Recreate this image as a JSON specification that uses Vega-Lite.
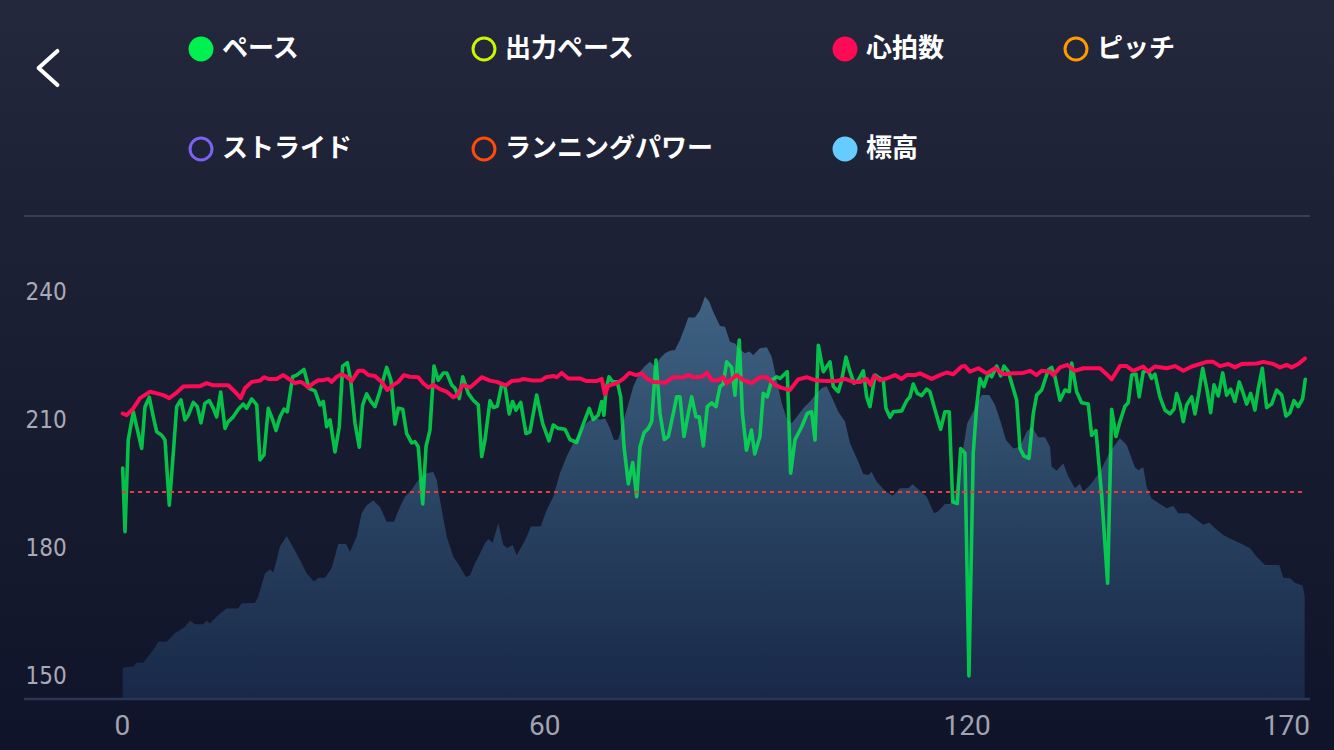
{
  "$schema": "https://vega.github.io/schema/vega-lite/v6.json",
  "width": 1334,
  "height": 750,
  "autosize": {"type": "none"},
  "padding": 0,
  "background": "#11152a",
  "view": {"stroke": null, "fill": {"gradient": "linear", "x1": 0, "y1": 0, "x2": 0, "y2": 1, "stops": [{"offset": 0, "color": "#23283c"}, {"offset": 0.3, "color": "#1d2135"}, {"offset": 1, "color": "#10142a"}]}},
  "datasets": {
    "legend": [],
    "elev": [
      {"t":0.1,"v":152.0},{"t":0.43,"v":152.2},{"t":1.61,"v":152.4},{"t":2.09,"v":153.3},{"t":3.03,"v":153.3},{"t":4.45,"v":156.3},{"t":5.16,"v":158.2},{"t":6.35,"v":158.2},{"t":7.53,"v":160.2},{"t":8.24,"v":160.9},{"t":8.95,"v":161.7},{"t":9.66,"v":163.1},{"t":10.37,"v":162.3},{"t":11.55,"v":162.3},{"t":12.03,"v":163.1},{"t":12.5,"v":162.5},{"t":13.45,"v":164.1},{"t":14.87,"v":166.0},{"t":16.52,"v":166.0},{"t":17.0,"v":167.2},{"t":18.89,"v":167.3},{"t":19.36,"v":168.8},{"t":20.31,"v":174.2},{"t":21.02,"v":175.2},{"t":21.49,"v":174.4},{"t":21.98,"v":177.4},{"t":22.45,"v":180.5},{"t":23.4,"v":183.0},{"t":24.11,"v":180.9},{"t":25.05,"v":178.1},{"t":26.24,"v":174.2},{"t":27.28,"v":172.3},{"t":27.89,"v":173.2},{"t":28.84,"v":173.2},{"t":29.79,"v":175.4},{"t":30.73,"v":181.1},{"t":31.82,"v":181.1},{"t":32.39,"v":179.3},{"t":33.34,"v":182.8},{"t":34.05,"v":188.3},{"t":34.76,"v":190.2},{"t":35.7,"v":191.3},{"t":36.65,"v":189.8},{"t":37.6,"v":186.3},{"t":38.64,"v":186.3},{"t":39.49,"v":189.8},{"t":40.2,"v":192.2},{"t":41.16,"v":193.8},{"t":42.09,"v":196.1},{"t":43.28,"v":197.7},{"t":44.22,"v":198.0},{"t":44.71,"v":196.1},{"t":45.17,"v":191.4},{"t":46.13,"v":182.8},{"t":47.07,"v":178.1},{"t":48.02,"v":175.8},{"t":48.87,"v":173.3},{"t":49.44,"v":173.8},{"t":50.15,"v":176.6},{"t":50.86,"v":178.9},{"t":51.57,"v":181.3},{"t":52.04,"v":182.2},{"t":52.66,"v":181.4},{"t":53.46,"v":186.0},{"t":54.17,"v":180.9},{"t":54.74,"v":180.2},{"t":55.5,"v":180.9},{"t":56.07,"v":178.5},{"t":56.78,"v":180.5},{"t":57.39,"v":182.4},{"t":58.1,"v":185.2},{"t":59.48,"v":185.2},{"t":60.33,"v":189.1},{"t":61.27,"v":192.2},{"t":62.22,"v":197.7},{"t":63.17,"v":201.6},{"t":64.11,"v":204.7},{"t":65.06,"v":207.4},{"t":66.01,"v":209.5},{"t":67.19,"v":210.9},{"t":67.9,"v":210.2},{"t":68.62,"v":210.6},{"t":69.33,"v":208.2},{"t":69.89,"v":205.5},{"t":70.51,"v":205.6},{"t":70.99,"v":208.6},{"t":71.7,"v":212.5},{"t":72.64,"v":218.0},{"t":73.59,"v":221.5},{"t":74.3,"v":222.8},{"t":75.01,"v":223.8},{"t":75.72,"v":222.7},{"t":76.43,"v":224.6},{"t":77.14,"v":225.8},{"t":77.85,"v":226.4},{"t":78.56,"v":226.6},{"t":79.27,"v":228.9},{"t":79.98,"v":232.0},{"t":80.45,"v":234.2},{"t":81.4,"v":234.2},{"t":82.11,"v":235.9},{"t":82.82,"v":239.1},{"t":83.43,"v":237.9},{"t":84.0,"v":235.5},{"t":84.95,"v":232.2},{"t":85.66,"v":232.0},{"t":86.37,"v":228.5},{"t":87.08,"v":228.1},{"t":87.79,"v":226.7},{"t":88.5,"v":225.8},{"t":89.12,"v":226.2},{"t":89.68,"v":225.4},{"t":90.63,"v":227.0},{"t":91.59,"v":227.2},{"t":92.3,"v":225.0},{"t":93.01,"v":219.5},{"t":93.72,"v":214.1},{"t":94.51,"v":210.2},{"t":95.14,"v":209.4},{"t":95.85,"v":210.9},{"t":96.79,"v":212.9},{"t":97.84,"v":214.7},{"t":98.68,"v":216.4},{"t":99.39,"v":217.6},{"t":100.1,"v":218.1},{"t":100.81,"v":215.6},{"t":101.76,"v":212.1},{"t":102.71,"v":209.8},{"t":103.42,"v":204.7},{"t":104.6,"v":200.4},{"t":105.31,"v":197.5},{"t":106.02,"v":197.3},{"t":106.5,"v":198.0},{"t":107.21,"v":195.7},{"t":108.39,"v":193.6},{"t":109.48,"v":192.4},{"t":110.52,"v":194.2},{"t":111.7,"v":194.2},{"t":112.32,"v":195.1},{"t":113.36,"v":193.6},{"t":114.31,"v":192.2},{"t":115.35,"v":188.3},{"t":115.96,"v":188.8},{"t":116.91,"v":190.5},{"t":117.62,"v":190.5},{"t":118.33,"v":193.0},{"t":119.04,"v":198.8},{"t":120.08,"v":209.4},{"t":120.93,"v":212.1},{"t":122.13,"v":216.0},{"t":123.21,"v":216.0},{"t":124.02,"v":213.7},{"t":124.73,"v":210.2},{"t":125.58,"v":205.5},{"t":126.62,"v":203.5},{"t":127.57,"v":203.9},{"t":128.52,"v":207.4},{"t":129.23,"v":208.6},{"t":130.17,"v":206.1},{"t":131.12,"v":206.1},{"t":131.83,"v":203.9},{"t":132.07,"v":199.2},{"t":132.78,"v":198.3},{"t":133.72,"v":200.0},{"t":134.43,"v":196.9},{"t":135.38,"v":194.2},{"t":136.09,"v":195.2},{"t":136.56,"v":193.4},{"t":137.51,"v":194.9},{"t":138.93,"v":198.0},{"t":140.35,"v":202.7},{"t":141.77,"v":205.9},{"t":142.72,"v":204.3},{"t":143.9,"v":199.1},{"t":144.37,"v":198.4},{"t":145.08,"v":199.1},{"t":145.56,"v":194.5},{"t":146.27,"v":191.8},{"t":147.45,"v":190.5},{"t":148.41,"v":189.5},{"t":149.35,"v":190.0},{"t":150.06,"v":188.3},{"t":151.48,"v":188.3},{"t":152.19,"v":187.4},{"t":153.61,"v":185.6},{"t":154.46,"v":186.1},{"t":155.27,"v":184.8},{"t":156.45,"v":183.2},{"t":157.4,"v":182.4},{"t":159.06,"v":181.1},{"t":160.24,"v":180.1},{"t":161.2,"v":178.1},{"t":162.38,"v":176.2},{"t":164.41,"v":176.2},{"t":164.98,"v":173.2},{"t":165.93,"v":173.1},{"t":166.63,"v":172.0},{"t":167.73,"v":171.3},{"t":168.01,"v":168.8}
    ],
    "pace": [
      {"t":0.1,"v":198.9},{"t":0.43,"v":184.0},{"t":0.89,"v":205.5},{"t":1.61,"v":212.1},{"t":2.09,"v":208.6},{"t":2.8,"v":203.5},{"t":3.27,"v":213.3},{"t":3.88,"v":215.5},{"t":4.45,"v":210.9},{"t":4.93,"v":207.4},{"t":5.64,"v":206.6},{"t":6.11,"v":205.5},{"t":6.72,"v":190.2},{"t":7.29,"v":202.4},{"t":7.77,"v":213.3},{"t":8.38,"v":214.9},{"t":8.95,"v":210.2},{"t":9.42,"v":211.3},{"t":10.13,"v":214.3},{"t":10.7,"v":213.3},{"t":11.22,"v":209.5},{"t":11.79,"v":214.1},{"t":12.4,"v":214.7},{"t":12.97,"v":212.9},{"t":13.45,"v":210.9},{"t":14.02,"v":216.7},{"t":14.63,"v":208.2},{"t":15.1,"v":209.8},{"t":15.81,"v":210.9},{"t":16.52,"v":212.7},{"t":17.23,"v":213.9},{"t":17.71,"v":212.9},{"t":18.43,"v":215.1},{"t":19.14,"v":213.7},{"t":19.6,"v":200.8},{"t":20.17,"v":202.0},{"t":20.78,"v":212.9},{"t":21.41,"v":210.2},{"t":21.88,"v":207.7},{"t":22.45,"v":210.9},{"t":23.01,"v":212.7},{"t":23.48,"v":212.1},{"t":24.25,"v":220.3},{"t":24.82,"v":220.7},{"t":25.85,"v":222.0},{"t":26.57,"v":217.6},{"t":27.42,"v":217.0},{"t":28.13,"v":213.7},{"t":28.6,"v":214.5},{"t":29.08,"v":208.6},{"t":29.55,"v":210.2},{"t":30.26,"v":202.7},{"t":30.87,"v":208.6},{"t":31.35,"v":222.8},{"t":32.01,"v":223.6},{"t":32.49,"v":219.5},{"t":33.1,"v":209.4},{"t":33.71,"v":203.8},{"t":34.19,"v":213.7},{"t":34.76,"v":216.3},{"t":35.37,"v":214.5},{"t":35.94,"v":213.3},{"t":36.55,"v":216.4},{"t":37.6,"v":222.5},{"t":38.21,"v":219.5},{"t":38.78,"v":209.2},{"t":39.25,"v":212.9},{"t":39.88,"v":212.7},{"t":40.44,"v":207.0},{"t":41.16,"v":204.8},{"t":41.62,"v":205.1},{"t":42.09,"v":203.9},{"t":42.72,"v":190.5},{"t":43.19,"v":203.9},{"t":43.75,"v":207.8},{"t":44.32,"v":222.8},{"t":44.93,"v":219.5},{"t":45.64,"v":221.2},{"t":46.13,"v":221.2},{"t":46.84,"v":218.4},{"t":47.31,"v":217.6},{"t":47.92,"v":215.2},{"t":48.4,"v":220.3},{"t":49.2,"v":216.4},{"t":49.9,"v":214.8},{"t":50.62,"v":213.7},{"t":51.1,"v":201.6},{"t":51.57,"v":205.5},{"t":52.28,"v":214.7},{"t":52.75,"v":213.1},{"t":53.32,"v":213.4},{"t":53.94,"v":218.4},{"t":54.41,"v":218.0},{"t":55.02,"v":211.6},{"t":55.5,"v":214.5},{"t":55.97,"v":212.5},{"t":56.64,"v":214.3},{"t":57.39,"v":207.0},{"t":57.96,"v":207.4},{"t":58.91,"v":216.0},{"t":59.76,"v":209.4},{"t":60.66,"v":205.3},{"t":61.27,"v":209.0},{"t":61.98,"v":208.2},{"t":62.93,"v":208.0},{"t":63.64,"v":205.6},{"t":64.59,"v":204.9},{"t":65.53,"v":209.2},{"t":66.38,"v":212.9},{"t":66.95,"v":210.3},{"t":67.66,"v":211.3},{"t":68.15,"v":214.5},{"t":68.47,"v":211.3},{"t":68.76,"v":217.2},{"t":69.18,"v":220.3},{"t":69.71,"v":219.1},{"t":70.36,"v":219.1},{"t":70.85,"v":215.6},{"t":71.32,"v":203.9},{"t":71.93,"v":195.2},{"t":72.55,"v":200.2},{"t":73.12,"v":192.2},{"t":73.59,"v":203.9},{"t":74.16,"v":207.2},{"t":74.77,"v":208.2},{"t":75.25,"v":209.8},{"t":75.86,"v":224.2},{"t":76.43,"v":211.7},{"t":77.04,"v":205.6},{"t":77.61,"v":206.3},{"t":78.32,"v":211.7},{"t":78.8,"v":215.6},{"t":79.27,"v":215.6},{"t":79.84,"v":206.3},{"t":80.45,"v":211.7},{"t":80.93,"v":215.6},{"t":81.54,"v":210.9},{"t":82.01,"v":210.9},{"t":82.58,"v":204.1},{"t":83.15,"v":213.3},{"t":83.77,"v":214.2},{"t":84.38,"v":213.3},{"t":84.95,"v":218.0},{"t":85.42,"v":218.6},{"t":85.9,"v":223.8},{"t":86.61,"v":222.5},{"t":87.08,"v":216.0},{"t":87.69,"v":228.9},{"t":88.14,"v":211.7},{"t":88.71,"v":203.1},{"t":89.42,"v":207.8},{"t":89.89,"v":202.2},{"t":90.63,"v":206.3},{"t":91.1,"v":216.4},{"t":91.67,"v":215.6},{"t":92.3,"v":219.5},{"t":93.01,"v":220.3},{"t":93.48,"v":219.9},{"t":94.51,"v":221.5},{"t":94.99,"v":197.7},{"t":95.6,"v":205.5},{"t":96.56,"v":208.6},{"t":97.35,"v":211.7},{"t":97.97,"v":212.1},{"t":98.45,"v":205.5},{"t":98.92,"v":227.7},{"t":99.63,"v":221.5},{"t":100.58,"v":223.8},{"t":101.05,"v":218.0},{"t":101.76,"v":216.8},{"t":102.24,"v":219.5},{"t":102.85,"v":224.9},{"t":103.42,"v":221.5},{"t":103.99,"v":218.8},{"t":104.6,"v":219.5},{"t":105.31,"v":221.7},{"t":105.79,"v":215.6},{"t":106.26,"v":213.3},{"t":106.97,"v":220.7},{"t":107.44,"v":220.2},{"t":108.15,"v":219.5},{"t":108.53,"v":212.9},{"t":109.1,"v":210.8},{"t":109.57,"v":212.1},{"t":110.76,"v":212.3},{"t":111.47,"v":214.7},{"t":111.94,"v":215.6},{"t":112.41,"v":218.6},{"t":112.98,"v":216.4},{"t":113.6,"v":215.9},{"t":114.31,"v":217.4},{"t":114.78,"v":216.8},{"t":115.35,"v":213.4},{"t":116.3,"v":208.0},{"t":116.91,"v":212.1},{"t":117.52,"v":212.1},{"t":118.01,"v":191.0},{"t":118.66,"v":190.6},{"t":119.14,"v":203.5},{"t":119.75,"v":202.4},{"t":120.32,"v":150.2},{"t":120.93,"v":202.4},{"t":121.41,"v":213.3},{"t":121.88,"v":219.9},{"t":122.45,"v":218.0},{"t":123.07,"v":221.1},{"t":123.55,"v":220.3},{"t":124.26,"v":222.8},{"t":124.83,"v":220.5},{"t":125.3,"v":222.8},{"t":125.91,"v":221.5},{"t":126.39,"v":218.8},{"t":127.1,"v":214.8},{"t":127.57,"v":203.5},{"t":128.14,"v":201.7},{"t":128.85,"v":201.2},{"t":129.46,"v":211.7},{"t":129.94,"v":216.0},{"t":130.65,"v":217.2},{"t":131.59,"v":221.9},{"t":132.07,"v":222.5},{"t":132.54,"v":220.3},{"t":133.25,"v":214.8},{"t":133.96,"v":217.2},{"t":134.58,"v":216.8},{"t":134.91,"v":223.5},{"t":135.62,"v":216.8},{"t":136.33,"v":214.2},{"t":137.27,"v":213.9},{"t":137.75,"v":206.6},{"t":138.36,"v":207.7},{"t":139.17,"v":192.6},{"t":140.02,"v":171.9},{"t":140.59,"v":212.7},{"t":141.21,"v":206.3},{"t":141.77,"v":209.8},{"t":142.48,"v":213.4},{"t":142.95,"v":214.2},{"t":143.44,"v":220.7},{"t":144.05,"v":220.9},{"t":144.51,"v":215.6},{"t":145.08,"v":221.5},{"t":145.79,"v":221.7},{"t":146.27,"v":219.9},{"t":146.74,"v":220.9},{"t":147.45,"v":215.6},{"t":148.17,"v":212.5},{"t":148.88,"v":211.6},{"t":149.44,"v":212.7},{"t":149.83,"v":216.4},{"t":150.3,"v":213.9},{"t":150.77,"v":209.8},{"t":151.25,"v":213.7},{"t":151.96,"v":215.6},{"t":152.43,"v":211.6},{"t":152.9,"v":215.8},{"t":153.53,"v":222.3},{"t":154.1,"v":217.6},{"t":154.66,"v":211.9},{"t":155.13,"v":218.4},{"t":155.74,"v":215.8},{"t":156.37,"v":221.2},{"t":156.93,"v":216.0},{"t":157.5,"v":217.4},{"t":158.11,"v":214.5},{"t":158.72,"v":219.1},{"t":159.29,"v":216.4},{"t":159.77,"v":213.9},{"t":160.34,"v":216.4},{"t":160.95,"v":212.5},{"t":161.42,"v":217.6},{"t":161.99,"v":222.3},{"t":162.61,"v":213.1},{"t":163.32,"v":213.9},{"t":164.03,"v":217.2},{"t":164.75,"v":216.0},{"t":165.36,"v":211.1},{"t":165.93,"v":211.9},{"t":166.49,"v":214.7},{"t":167.1,"v":213.3},{"t":167.73,"v":215.2},{"t":168.1,"v":219.7}
    ],
    "hr": [
      {"t":0.1,"v":211.7},{"t":0.67,"v":211.3},{"t":1.61,"v":212.9},{"t":2.56,"v":215.3},{"t":3.98,"v":216.8},{"t":4.93,"v":216.4},{"t":5.87,"v":216.0},{"t":6.72,"v":215.3},{"t":7.77,"v":216.6},{"t":8.71,"v":218.0},{"t":9.66,"v":218.1},{"t":11.08,"v":218.1},{"t":12.03,"v":218.8},{"t":12.97,"v":218.3},{"t":15.1,"v":218.3},{"t":16.05,"v":216.8},{"t":16.86,"v":215.3},{"t":17.47,"v":217.6},{"t":18.43,"v":219.1},{"t":19.6,"v":219.4},{"t":20.17,"v":220.2},{"t":20.78,"v":219.8},{"t":21.97,"v":219.8},{"t":22.91,"v":220.7},{"t":23.62,"v":219.9},{"t":24.58,"v":218.8},{"t":25.29,"v":219.1},{"t":25.76,"v":218.8},{"t":26.47,"v":217.8},{"t":27.18,"v":218.8},{"t":27.89,"v":219.5},{"t":28.6,"v":219.5},{"t":29.31,"v":219.8},{"t":29.79,"v":219.1},{"t":30.5,"v":220.3},{"t":31.21,"v":220.9},{"t":31.92,"v":220.3},{"t":32.63,"v":219.3},{"t":33.57,"v":221.7},{"t":34.28,"v":221.7},{"t":34.99,"v":220.7},{"t":35.94,"v":220.5},{"t":36.89,"v":219.1},{"t":37.69,"v":217.2},{"t":38.54,"v":218.4},{"t":39.25,"v":219.1},{"t":40.06,"v":220.7},{"t":40.91,"v":220.3},{"t":42.09,"v":220.2},{"t":42.8,"v":218.8},{"t":43.51,"v":217.8},{"t":44.22,"v":218.4},{"t":45.17,"v":217.4},{"t":46.13,"v":216.8},{"t":47.07,"v":215.5},{"t":47.63,"v":216.0},{"t":48.4,"v":218.4},{"t":49.44,"v":217.8},{"t":51.1,"v":220.2},{"t":52.28,"v":219.4},{"t":53.23,"v":219.1},{"t":54.55,"v":218.3},{"t":55.36,"v":219.3},{"t":56.54,"v":219.5},{"t":57.01,"v":219.8},{"t":58.43,"v":219.4},{"t":59.62,"v":219.5},{"t":60.23,"v":220.2},{"t":61.27,"v":220.5},{"t":61.75,"v":220.2},{"t":62.46,"v":221.2},{"t":63.4,"v":219.9},{"t":65.06,"v":219.9},{"t":66.01,"v":219.3},{"t":67.43,"v":219.3},{"t":68.15,"v":219.8},{"t":68.61,"v":216.2},{"t":69.08,"v":218.2},{"t":70.28,"v":218.8},{"t":71.21,"v":219.8},{"t":72.07,"v":221.2},{"t":73.02,"v":220.7},{"t":73.83,"v":221.1},{"t":74.54,"v":219.9},{"t":75.48,"v":219.1},{"t":77.14,"v":218.9},{"t":78.32,"v":220.2},{"t":79.74,"v":220.2},{"t":80.45,"v":220.7},{"t":81.16,"v":220.2},{"t":82.35,"v":220.3},{"t":83.15,"v":221.2},{"t":83.77,"v":219.5},{"t":84.72,"v":219.5},{"t":85.42,"v":220.2},{"t":85.9,"v":218.8},{"t":86.61,"v":219.7},{"t":87.32,"v":220.7},{"t":88.27,"v":219.5},{"t":89.46,"v":218.8},{"t":90.63,"v":220.2},{"t":91.59,"v":220.2},{"t":92.77,"v":218.4},{"t":93.72,"v":217.7},{"t":94.89,"v":217.2},{"t":96.07,"v":219.7},{"t":97.26,"v":220.2},{"t":98.68,"v":219.4},{"t":100.1,"v":219.3},{"t":101.53,"v":219.3},{"t":102.71,"v":219.8},{"t":103.89,"v":219.1},{"t":104.84,"v":219.1},{"t":105.79,"v":219.8},{"t":106.36,"v":218.4},{"t":106.83,"v":220.5},{"t":107.68,"v":219.5},{"t":108.63,"v":219.9},{"t":109.81,"v":220.7},{"t":110.76,"v":219.8},{"t":111.47,"v":220.7},{"t":112.65,"v":220.7},{"t":113.36,"v":221.1},{"t":115.02,"v":219.8},{"t":116.2,"v":220.7},{"t":117.15,"v":221.3},{"t":118.09,"v":220.9},{"t":119.29,"v":222.7},{"t":119.75,"v":222.8},{"t":120.46,"v":221.5},{"t":121.65,"v":222.3},{"t":122.84,"v":221.1},{"t":124.02,"v":222.3},{"t":125.2,"v":220.9},{"t":126.62,"v":221.1},{"t":128.04,"v":221.2},{"t":128.99,"v":221.7},{"t":129.94,"v":220.7},{"t":130.65,"v":221.7},{"t":131.83,"v":221.5},{"t":132.3,"v":220.7},{"t":133.25,"v":222.5},{"t":134.29,"v":223.1},{"t":135.38,"v":221.7},{"t":136.56,"v":222.3},{"t":138.93,"v":222.3},{"t":139.88,"v":220.9},{"t":140.59,"v":219.7},{"t":141.77,"v":222.8},{"t":142.72,"v":222.8},{"t":143.66,"v":221.7},{"t":145.08,"v":222.7},{"t":145.79,"v":221.5},{"t":146.74,"v":222.7},{"t":148.41,"v":222.3},{"t":149.59,"v":222.8},{"t":150.77,"v":221.7},{"t":151.96,"v":222.7},{"t":153.14,"v":223.3},{"t":154.1,"v":223.8},{"t":155.03,"v":223.8},{"t":155.98,"v":222.8},{"t":157.16,"v":223.3},{"t":158.11,"v":222.5},{"t":159.06,"v":223.3},{"t":161.2,"v":223.4},{"t":162.13,"v":223.8},{"t":163.55,"v":223.3},{"t":164.5,"v":222.5},{"t":165.45,"v":223.1},{"t":166.16,"v":222.5},{"t":167.1,"v":223.3},{"t":168.05,"v":224.6}
    ]
  },
  "layer": [
    {
      "data": {"name": "elev"},
      "mark": {"type": "area", "line": false, "color": {"gradient": "linear", "x1": 0, "y1": 0, "x2": 0, "y2": 1, "stops": [{"offset": 0, "color": "#3f6383"}, {"offset": 0.5, "color": "#2a4463"}, {"offset": 1, "color": "#182848"}]}},
      "encoding": {
        "x": {"field": "t", "type": "quantitative", "scale": {"domain": [-17.33, 172.18], "nice": false, "zero": false},
          "axis": {"title": null, "orient": "bottom", "offset": -51, "values": [0, 60, 120, 165.36], "labelExpr": "datum.value > 160 ? '170' : datum.label", "domain": false, "ticks": false, "tickSize": 0, "grid": false, "labelFont": "Roboto", "labelFontSize": 28, "labelColor": "#a1a4af", "labelPadding": 13, "labelFlush": false, "labelOverlap": false}},
        "y": {"field": "v", "type": "quantitative", "scale": {"domain": [132.83, 308.6], "nice": false, "zero": false},
          "axis": {"title": null, "orient": "left", "values": [150, 180, 210, 240], "domain": false, "ticks": false, "tickSize": 0, "grid": false, "labelAlign": "left", "labelBaseline": "middle", "labelPadding": -25, "labelFont": "DejaVu Sans Condensed, Liberation Sans Narrow, sans-serif", "labelFontSize": 24, "labelFontWeight": "normal", "labelColor": "#a9aab5", "labelFlush": false, "labelOverlap": false}},
        "y2": {"datum": 144.77}
      }
    },
    {
      "data": {"values": [{}]},
      "mark": {"type": "rule", "color": "#393e52", "strokeWidth": 2},
      "encoding": {"x": {"datum": -13.92}, "x2": {"datum": 168.77}, "y": {"datum": 257.97}}
    },
    {
      "data": {"values": [{}]},
      "mark": {"type": "rule", "color": "#2b3653", "strokeWidth": 2.5},
      "encoding": {"x": {"datum": -13.92}, "x2": {"datum": 168.77}, "y": {"datum": 144.77}}
    },
    {
      "data": {"name": "pace"},
      "mark": {"type": "line", "color": "#00f050", "strokeWidth": 3.6, "opacity": 0.78, "strokeJoin": "round", "strokeCap": "round"},
      "encoding": {
        "x": {"field": "t", "type": "quantitative"},
        "y": {"field": "v", "type": "quantitative"}
      }
    },
    {
      "data": {"values": [{}]},
      "mark": {"type": "rule", "color": "#e0403f", "strokeWidth": 2, "strokeDash": [4, 4]},
      "encoding": {"x": {"datum": 0}, "x2": {"datum": 168.1}, "y": {"datum": 193.3}}
    },
    {
      "data": {"name": "hr"},
      "mark": {"type": "line", "color": "#ff0a55", "strokeWidth": 4, "strokeJoin": "round", "strokeCap": "round"},
      "encoding": {
        "x": {"field": "t", "type": "quantitative"},
        "y": {"field": "v", "type": "quantitative"}
      }
    },
    {
      "data": {"name": "legend"},
      "mark": {"type": "point", "filled": true, "opacity": 1, "strokeWidth": 3},
      "encoding": {
        "x": {"field": "t", "type": "quantitative"},
        "y": {"field": "v", "type": "quantitative"},
        "fill": {"field": "s", "type": "nominal",
          "scale": {"domain": ["ペース", "出力ペース", "心拍数", "ピッチ", "ストライド", "ランニングパワー", "標高"], "range": ["#00f050", "transparent", "#ff0a55", "transparent", "transparent", "transparent", "#66ccff"]},
          "legend": {"title": null, "orient": "none", "legendX": 188, "legendY": 36, "direction": "horizontal", "columns": 4, "columnPadding": 114, "rowPadding": 66, "padding": 0, "symbolType": "circle", "symbolSize": 480, "symbolStrokeWidth": 3, "symbolOpacity": 1, "labelFont": "Noto Sans CJK JP", "labelFontSize": 26, "labelFontWeight": "bold", "labelColor": "#ffffff", "labelOffset": 8, "labelLimit": 400}},
        "stroke": {"field": "s", "type": "nominal",
          "scale": {"domain": ["ペース", "出力ペース", "心拍数", "ピッチ", "ストライド", "ランニングパワー", "標高"], "range": ["#00f050", "#ccf500", "#ff0a55", "#ff9a00", "#7c62f0", "#ff4a0a", "#66ccff"]},
          "legend": {"title": null, "orient": "none", "legendX": 188, "legendY": 36, "direction": "horizontal", "columns": 4, "columnPadding": 114, "rowPadding": 66, "padding": 0, "symbolType": "circle", "symbolSize": 480, "symbolStrokeWidth": 3, "symbolOpacity": 1, "labelFont": "Noto Sans CJK JP", "labelFontSize": 26, "labelFontWeight": "bold", "labelColor": "#ffffff", "labelOffset": 8, "labelLimit": 400}}
      }
    },
    {
      "data": {"values": [{}]},
      "mark": {"type": "point", "shape": "M 0.41 -0.74 L -0.41 0 L 0.41 0.74", "size": 2116, "filled": false, "color": "#ffffff", "strokeWidth": 4, "strokeCap": "round", "strokeJoin": "round", "opacity": 1},
      "encoding": {"x": {"datum": -10.51}, "y": {"datum": 292.66}}
    }
  ]
}
